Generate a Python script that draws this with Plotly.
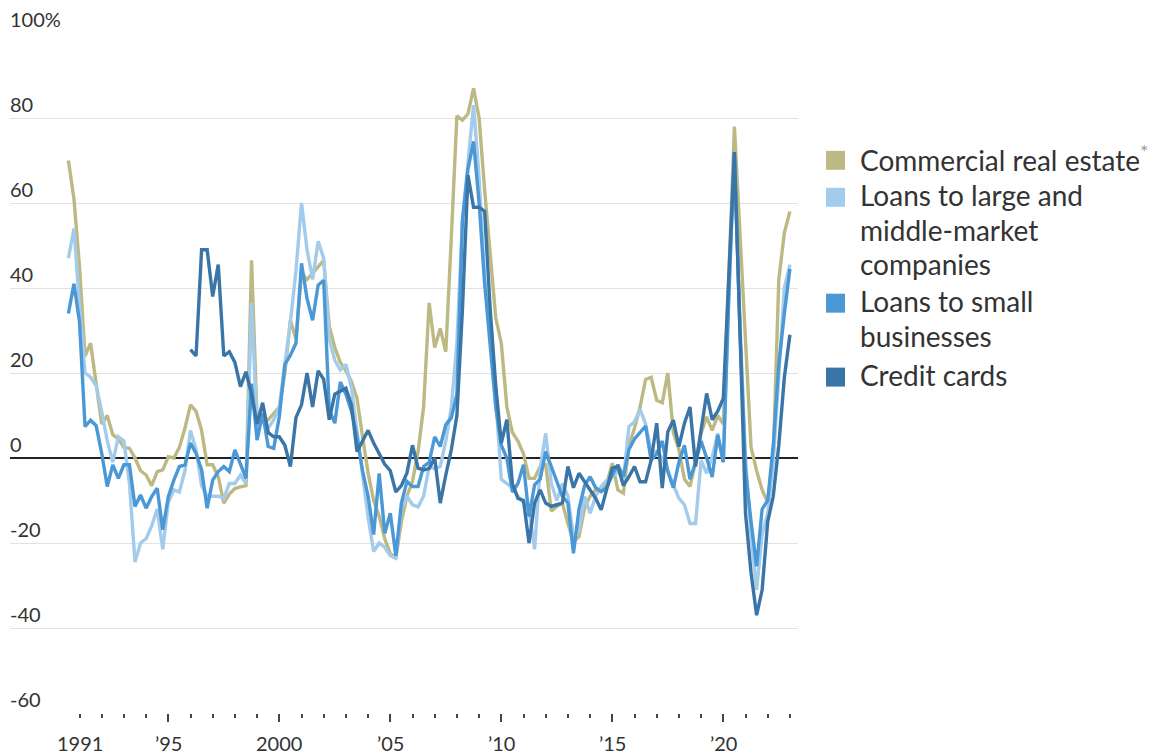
import plotly.graph_objects as go

# ---------------- data (net % of banks tightening standards, quarterly) ----------------
# CRE, large/middle-market and small-business series start 1990 Q3; credit cards start 1996 Q1
START_MAIN = 1990.5
START_CARDS = 1996.0

cre = [
    70, 61,                      # 1990
    45, 24, 27, 18,              # 1991
    8, 10, 5.5, 4.5,             # 1992
    2.5, 2.3, 0, -3,             # 1993
    -4, -6.5, -3.2, -2.8,        # 1994
    0.3, 0, 2.5, 7,              # 1995
    12.5, 11, 6.5, -1.6,         # 1996
    -1.6, -4.4, -10.6, -8.5,     # 1997
    -7.2, -6.8, -6.5, 46.5,      # 1998
    9, 9, 9, 10.5,               # 1999
    12, 20, 32.4, 28,            # 2000
    43.5, 42, 43.5, 45,          # 2001
    46.5, 31, 26, 22.5,          # 2002
    20.5, 18, 14, 5,             # 2003
    -3.5, -10, -13.7, -19,       # 2004
    -22.5, -23.6, -15, -9,       # 2005
    -5.5, 1.5, 12, 36.5,         # 2006
    26, 30.5, 25, 52,            # 2007
    80.5, 79.5, 81, 87,          # 2008
    80, 63, 47, 33,              # 2009
    27, 12, 6, 4,                # 2010
    1, -4.8, -4.8, -2,           # 2011
    -1.6, -12.5, -11.4, -10.6,   # 2012
    -15.4, -19.7, -18.5, -11.8,  # 2013
    -9, -7.5, -7.5, -6,          # 2014
    -1.2, -7.5, -8.3, 3,         # 2015
    7, 12, 18.5, 19,             # 2016
    13.6, 13, 20, 6,             # 2017
    2, -5, -6.7, -1,             # 2018
    5.8, 9.7, 6.5, 10,           # 2019
    8, 42, 78, 53,               # 2020
    28, 2.5, -3, -7.5,           # 2021
    -10.5, 0, 42, 53,            # 2022
    58,                          # 2023
]

large = [
    47, 54,
    36, 20, 19, 17,
    11, 4, -1, 5,
    4, -6, -24.5, -20,
    -19, -16, -12, -21.5,
    -10.5, -7.5, -8, -3,
    6.5, 2, -6.5, -9,
    -9, -9, -9.5, -6,
    -6, -4, -6, 36.5,
    7, 9, 7, 9,
    12, 22, 32, 44,
    60, 49, 42, 51,
    47, 28, 23, 20.7,
    22, 16.5, 6, -3,
    -14, -22, -20, -21,
    -23, -23.6, -12, -9,
    -11, -11.5, -9, -2,
    -2.5, -2, 4, 12,
    27, 56, 70, 83,
    66, 42, 30, 14,
    -5, -6, -7, -9,
    -10.5, -12, -21.5, -2.5,
    5.8, -6, -10, -6,
    -9, -18.5, -17, -9,
    -13, -9, -6.7, -5.2,
    -4.4, -3, -5, 7.4,
    8.5, 11.5, 8, 1.5,
    1.5, 0, -3, -6.5,
    -9.5, -11, -15.4, -15.4,
    -0.5, -3.6, 0.3, 5.8,
    -1, 40, 71.5, 32,
    0, -18, -31, -18,
    -13, -1, 19, 40,
    45.5,
]

small = [
    34, 41,
    32, 7.4, 8.9, 7.6,
    1.1, -6.7, -1.6, -4.8,
    -1.6, -1.6, -11.4, -8.7,
    -11.8, -9.1, -7.1, -16.9,
    -9.1, -5.2, -2, -1.6,
    3.5, 1.1, -2.8, -11.8,
    -5.2, -3.2, -2, -3.2,
    1.9, -1.2, -4.8, 17.5,
    4.2, 10.5, 2.7, 2.3,
    9.7, 22, 24.2, 27,
    45.8, 37.5, 32.4, 40.7,
    41.8, 11.3, 8.2, 17.9,
    15, 11, 5, -3,
    -9, -18, -3.6, -17.7,
    -13, -23, -10.6, -5.5,
    -6.7, -6.7, -2, -1,
    5, 2.7, 7.8, 9.5,
    15, 56, 68, 74.5,
    60, 41, 27, 12,
    3, 0, -8, -6,
    -1.6, -13.8, -6.3, -5,
    1.5, -2, -5.5, -9,
    -10.6, -22.4, -12, -6.5,
    -4.4, -7, -7.9, -7,
    -4, -1.6, -4.4, 2,
    4.5, 6, 7.5, -0.5,
    1, 4, -3.2, -7,
    -1, 3, -5, -1,
    4, 0, -4.5, 5.4,
    -1, 38, 72, 30,
    -3, -15, -25.5, -12,
    -10, 3, 22, 34,
    44.5,
]

cards = [
    25.5, 24, 49, 49,            # 1996
    38, 45.5, 24, 25,            # 1997
    22.5, 16.8, 20.3, 15,        # 1998
    8, 13, 6, 5,                 # 1999
    5, 3, -2, 9.5,               # 2000
    12.5, 20, 12, 20.5,          # 2001
    18.5, 9, 15, 15.6,           # 2002
    16.4, 12.5, 1.5, 4,          # 2003
    6.5, 3.5, 1, -1.5,           # 2004
    -3, -8, -6.5, -3.5,          # 2005
    3, -2.4, -2.8, -2.5,         # 2006
    0, -10.6, -4, 2,             # 2007
    10, 35, 66.5, 59,            # 2008
    59, 58, 35, 17,              # 2009
    3.5, 9, -6, -9.5,            # 2010
    -10, -20, -10.6, -7.5,       # 2011
    -10.6, -11.4, -11, -10.6,    # 2012
    -2, -7, -3.6, -5.5,          # 2013
    -7.5, -9.5, -12.2, -7.5,     # 2014
    -2.4, -2, -6.5, -4.4,        # 2015
    -2, -5.6, -5.6, -0.5,        # 2016
    8.2, -7.1, 6.2, 8.9,         # 2017
    2.7, 8.2, 12, -2,            # 2018
    7, 15.2, 9, 11,              # 2019
    14, 42, 72, 30,              # 2020
    -13, -27, -37, -31,          # 2021
    -15, -9, 3, 19,              # 2022
    29,                          # 2023
]

series_names = ["Commercial real estate", "Loans to large and middle-market companies",
                "Loans to small businesses", "Credit cards"]
legend_lines = [["Commercial real estate<sup><span style='color:#999999'>*</span></sup>"],
                ["Loans to large and", "middle-market", "companies"],
                ["Loans to small", "businesses"],
                ["Credit cards"]]
colors = ["#bdb983", "#a3cbec", "#4b98d6", "#3a75a8"]

x_labels_vals = [1991, 1995, 2000, 2005, 2010, 2015, 2020]
x_labels_text = ["1991", "\u201995", "2000", "\u201905", "\u201910", "\u201915", "\u201920"]
y_vals = [100, 80, 60, 40, 20, 0, -20, -40, -60]
y_text = ["100%", "80", "60", "40", "20", "0", "-20", "-40", "-60"]


def quarter_x(start, n):
    return [start + 0.25 * i for i in range(n)]


FONT = "Lato"
TXT = "#333333"

fig = go.Figure()
for name, vals, start, col in zip(series_names, [cre, large, small, cards],
                                  [START_MAIN, START_MAIN, START_MAIN, START_CARDS], colors):
    fig.add_trace(go.Scatter(x=quarter_x(start, len(vals)), y=vals, mode="lines", name=name,
                             line=dict(color=col, width=3.4), showlegend=False))

# geometry: reference pixel positions, compensated for the 8px page margin
OFF = 8
W, H = 1156, 756
L, R_PX, T, B_PX = 10 - OFF, 798 - OFF, 32.5 - OFF, 713.3 - OFF
X1991 = 79.5 - OFF
ppy = 22.2  # pixels per year
xr = [1991 - (X1991 - L) / ppy, 1991 + (R_PX - X1991) / ppy]


def px_x(p):  # reference x pixel -> paper
    return (p - OFF - L) / (R_PX - L)


def px_y(p):  # reference y pixel -> paper
    return (B_PX - (p - OFF)) / (B_PX - T)


fig.update_layout(
    width=W, height=H,
    margin=dict(l=L, r=W - R_PX, t=T, b=H - B_PX, pad=0),
    plot_bgcolor="white", paper_bgcolor="white",
    font=dict(family=FONT, color=TXT, size=20),
    xaxis=dict(range=xr, showgrid=False, zeroline=False, showline=False,
               tickvals=x_labels_vals[1:], showticklabels=False,
               ticks="outside", ticklen=8, tickwidth=1.6, tickcolor="#444",
               minor=dict(tickvals=list(range(1991, 2024)), ticks="outside", ticklen=4,
                          tickwidth=1.6, tickcolor="#444", showgrid=False),
               fixedrange=True),
    yaxis=dict(range=[-60, 100], tickvals=y_vals, showticklabels=False,
               showgrid=True, gridcolor="#e2e2e2", gridwidth=1,
               zeroline=True, zerolinecolor="#222222", zerolinewidth=1.5,
               showline=False, ticks="", fixedrange=True),
    hovermode=False,
)

annotations = []
# x tick labels
for v, t in zip(x_labels_vals, x_labels_text):
    annotations.append(dict(x=v, y=px_y(743), xref="x", yref="paper", text=t,
                            showarrow=False, xanchor="center", yanchor="middle",
                            font=dict(family=FONT, size=20, color=TXT)))
# y tick labels (left, above gridlines)
for v, t in zip(y_vals, y_text):
    annotations.append(dict(x=0, y=v, xref="paper", yref="y", text=t, showarrow=False,
                            xanchor="left", yanchor="middle", yshift=14, xshift=-2,
                            font=dict(family=FONT, size=20, color=TXT)))

# legend (squares + text lines); centres of text rows in reference pixels
shapes = []
row_centres = [[158], [195, 230, 264], [301, 336], [375]]
for lines, rows, col in zip(legend_lines, row_centres, colors):
    c0 = rows[0] + 2
    shapes.append(dict(type="rect", xref="paper", yref="paper",
                       x0=px_x(826), x1=px_x(845),
                       y0=px_y(c0 + 9.5), y1=px_y(c0 - 9.5),
                       fillcolor=col, line=dict(width=0)))
    for ln, cy in zip(lines, rows):
        annotations.append(dict(x=px_x(858), y=px_y(cy), xref="paper",
                                yref="paper", text=ln, showarrow=False, xanchor="left",
                                yanchor="middle", font=dict(family=FONT, size=28, color=TXT)))

fig.update_layout(annotations=annotations, shapes=shapes)
fig.write_html("out.html")
